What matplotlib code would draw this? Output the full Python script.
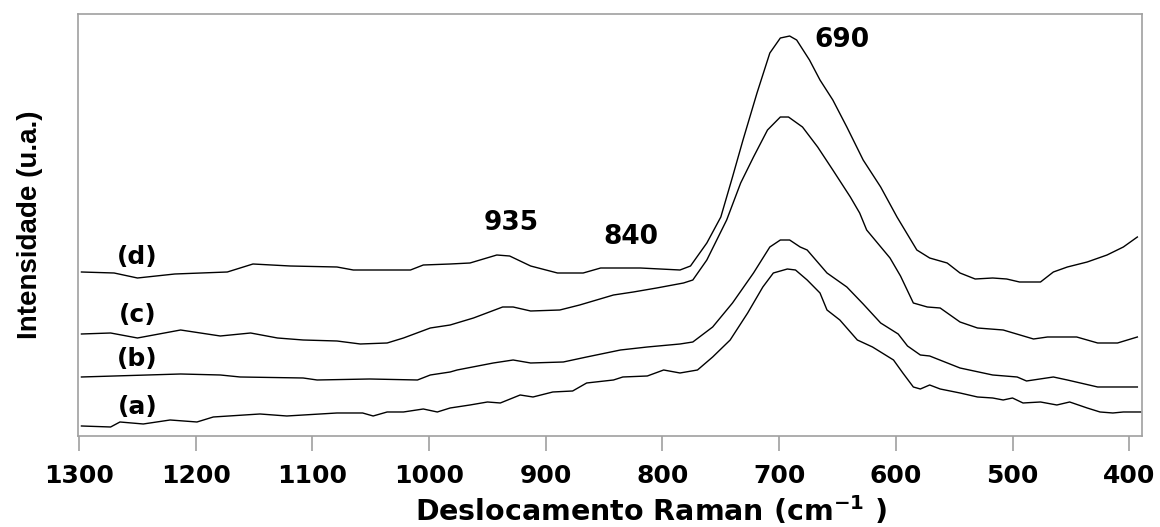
import matplotlib
matplotlib.use("Agg")
import matplotlib.pyplot as plt

# espectros Raman (intensidade em unidades arbitrarias, ja deslocadas)
wn_a = [1298, 1273, 1265, 1245, 1222, 1199, 1185, 1145, 1122, 1079, 1057, 1048, 1036, 1022,
        1005, 993, 982, 965, 950, 939, 922, 911, 894, 877, 865, 842, 834, 813, 799, 785,
        770, 757, 742, 727, 714, 705, 693, 686, 676, 665, 659, 648, 633, 620, 602, 594,
        585, 579, 571, 562, 545, 530, 517, 508, 500, 491, 476, 462, 451, 436, 425, 414,
        405, 390]
int_a = [10, 9, 14, 12, 16, 14, 19, 22, 20, 23, 23, 20, 24, 24,
         27, 24, 28, 31, 34, 33, 41, 39, 44, 45, 53, 56, 59, 60, 66, 63,
         66, 79, 96, 123, 149, 163, 167, 166, 156, 143, 126, 116, 96, 89, 76, 63,
         49, 47, 51, 47, 43, 39, 38, 36, 38, 33, 34, 31, 34, 28, 24, 23,
         24, 24]

wn_b = [1298, 1213, 1179, 1162, 1108, 1096, 1051, 1010, 999, 982, 976, 945, 928, 913,
        885, 865, 836, 813, 785, 774, 757, 740, 722, 708, 699, 691, 682, 676, 659, 642,
        628, 613, 598, 590, 579, 571, 545, 517, 496, 488, 465, 453, 427, 410, 393]
int_b = [59, 62, 61, 59, 58, 56, 57, 56, 61, 64, 66, 73, 76, 73,
         74, 79, 86, 89, 92, 94, 109, 133, 163, 189, 196, 196, 189, 186, 163, 149,
         132, 113, 102, 90, 81, 80, 68, 61, 59, 55, 59, 56, 49, 49, 49]

wn_c = [1298, 1273, 1250, 1213, 1179, 1153, 1130, 1108, 1079, 1059, 1036, 1022, 999, 982,
        962, 937, 928, 913, 888, 871, 842, 825, 805, 782, 774, 762, 745, 733, 722, 710,
        699, 692, 680, 667, 654, 639, 631, 625, 605, 596, 585, 573, 562, 545, 530, 508,
        482, 470, 445, 427, 410, 393]
int_c = [102, 103, 98, 106, 100, 103, 98, 96, 95, 92, 93, 98, 108, 111,
         118, 129, 129, 125, 126, 131, 141, 144, 148, 153, 156, 176, 216, 253, 279, 306,
         319, 319, 309, 289, 266, 239, 223, 206, 178, 160, 133, 129, 128, 114, 108, 106,
         97, 99, 99, 93, 93, 99]

wn_d = [1298, 1270, 1250, 1218, 1173, 1151, 1119, 1079, 1065, 1016, 1005, 982, 965, 942,
        931, 913, 890, 868, 853, 819, 785, 776, 762, 750, 740, 731, 719, 708, 699, 691,
        685, 674, 665, 654, 642, 628, 613, 599, 582, 571, 556, 545, 532, 517, 505, 494,
        476, 465, 453, 436, 419, 405, 393]
int_d = [164, 163, 158, 162, 164, 172, 170, 169, 166, 166, 171, 172, 173, 181,
         180, 170, 163, 163, 168, 168, 166, 170, 193, 219, 259, 296, 343, 383, 398, 400,
         396, 376, 356, 336, 309, 276, 249, 219, 186, 178, 173, 163, 157, 158, 157, 154,
         154, 164, 169, 174, 181, 189, 199]

series = [(wn_a, int_a), (wn_b, int_b), (wn_c, int_c), (wn_d, int_d)]
curve_labels = ['(a)', '(b)', '(c)', '(d)']
label_y = [17, 65, 109, 167]
peaks = ['935', '840', '690']
peak_pos = [(930, 213), (827, 199), (646, 396)]

plt.rcParams['font.family'] = ['DejaVu Sans']
plt.rcParams['font.weight'] = 'bold'
plt.rcParams['mathtext.fontset'] = 'custom'
plt.rcParams['mathtext.rm'] = 'DejaVu Sans:bold'
plt.rcParams['mathtext.bf'] = 'DejaVu Sans:bold'

fig = plt.figure(figsize=(11.6, 5.27), dpi=100)
ax = fig.add_axes([0.0672, 0.1727, 0.9173, 0.8007])

for wn, inten in series:
    ax.plot(wn, inten, color='black', lw=1.0)

for lab, yy in zip(curve_labels, label_y):
    ax.text(1250, yy, lab, fontsize=18, fontweight='bold', ha='center', va='bottom')

for txt, (px, py) in zip(peaks, peak_pos):
    ax.text(px, py, txt, fontsize=19, fontweight='bold', ha='center', va='center')

ax.set_xlim(1301, 389)
ax.set_ylim(0, 422)
ax.set_xticks([1300, 1200, 1100, 1000, 900, 800, 700, 600, 500, 400])
ax.set_yticks([])
ax.tick_params(axis='x', direction='out', length=11, width=1.2, color='#a0a0a0',
               labelsize=18, pad=9)
for lbl in ax.get_xticklabels():
    lbl.set_fontweight('bold')
for sp in ax.spines.values():
    sp.set_color('#a0a0a0')
    sp.set_linewidth(1.2)

fig.text(415 / 1160, 1 - 521 / 527, r'Deslocamento Raman (cm$^{-1}$ )',
         fontsize=20.5, fontweight='bold', ha='left', va='baseline')
ax.set_ylabel('Intensidade (u.a.)', fontsize=20, fontweight='bold',
              family='Liberation Sans')
ax.yaxis.set_label_coords(-0.033, 0.5)

fig.savefig('out.png', dpi=100)
